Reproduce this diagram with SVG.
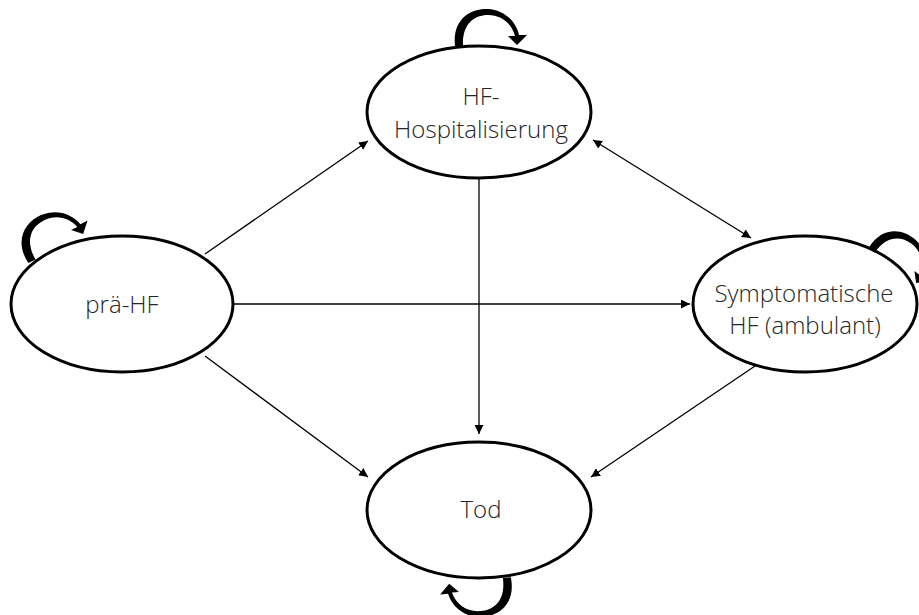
<svg xmlns="http://www.w3.org/2000/svg" width="919" height="615" viewBox="0 0 919 615">
  <style>
    .state { fill: #ffffff; stroke: #000000; stroke-width: 3; }
    .label { font-family: "Open Sans", "Liberation Sans", sans-serif; font-weight: 300; font-size: 24px; fill: #262626; text-anchor: middle; }
    .edge { stroke: #000000; stroke-width: 1.3; fill: none; }
    .loop { fill: #000000; }
  </style>
  <defs>
    <marker id="arrowEnd" viewBox="0 0 10 10" refX="10" refY="5" markerWidth="9" markerHeight="9" markerUnits="userSpaceOnUse" orient="auto">
      <path d="M0,0 L10,5 L0,10 Z" fill="#000000"/>
    </marker>
    <marker id="arrowStart" viewBox="0 0 10 10" refX="0" refY="5" markerWidth="9" markerHeight="9" markerUnits="userSpaceOnUse" orient="auto">
      <path d="M10,0 L0,5 L10,10 Z" fill="#000000"/>
    </marker>
    <!-- tapered self-loop arrow, drawn over the top of a node -->
    <path id="selfLoop" d="M -31 0 C -34 -28, -14 -38, 2 -37 C 18 -36, 30 -25, 33 -11 L 41 -11 L 31 -1 L 22 -10 L 29 -10 C 26 -22, 16 -31, 2 -31 C -12 -31, -24 -22, -23 0 Z"/>
  </defs>

  <g id="connectors">
    <line class="edge" x1="205" y1="254" x2="368" y2="141" marker-end="url(#arrowEnd)"/>
    <line class="edge" x1="234" y1="304" x2="690" y2="304" marker-end="url(#arrowEnd)"/>
    <line class="edge" x1="205" y1="356" x2="368" y2="477" marker-end="url(#arrowEnd)"/>
    <line class="edge" x1="479" y1="179" x2="479" y2="434" marker-end="url(#arrowEnd)"/>
    <line class="edge" x1="593" y1="140" x2="751" y2="238" marker-start="url(#arrowStart)" marker-end="url(#arrowEnd)"/>
    <line class="edge" x1="755" y1="366" x2="591" y2="477" marker-end="url(#arrowEnd)"/>
  </g>

  <g id="node-hospitalisierung">
    <ellipse class="state" cx="479" cy="112" rx="112" ry="66"/>
    <text class="label" x="481" y="105">HF-</text>
    <text class="label" x="481" y="138">Hospitalisierung</text>
    <use href="#selfLoop" class="loop" transform="translate(486,46)"/>
  </g>

  <g id="node-prae-hf">
    <ellipse class="state" cx="122" cy="304" rx="111" ry="68"/>
    <text class="label" x="122" y="313">prä-HF</text>
    <use href="#selfLoop" class="loop" transform="translate(56,249) rotate(-27)"/>
  </g>

  <g id="node-symptomatisch">
    <ellipse class="state" cx="805" cy="304" rx="112" ry="68"/>
    <text class="label" x="804" y="302">Symptomatische</text>
    <text class="label" x="805" y="334">HF (ambulant)</text>
    <use href="#selfLoop" class="loop" transform="translate(892,266) rotate(37) scale(0.95)"/>
  </g>

  <g id="node-tod">
    <ellipse class="state" cx="479" cy="510" rx="112" ry="68"/>
    <text class="label" x="481" y="518">Tod</text>
    <use href="#selfLoop" class="loop" transform="translate(480,580) rotate(175)"/>
  </g>
</svg>
